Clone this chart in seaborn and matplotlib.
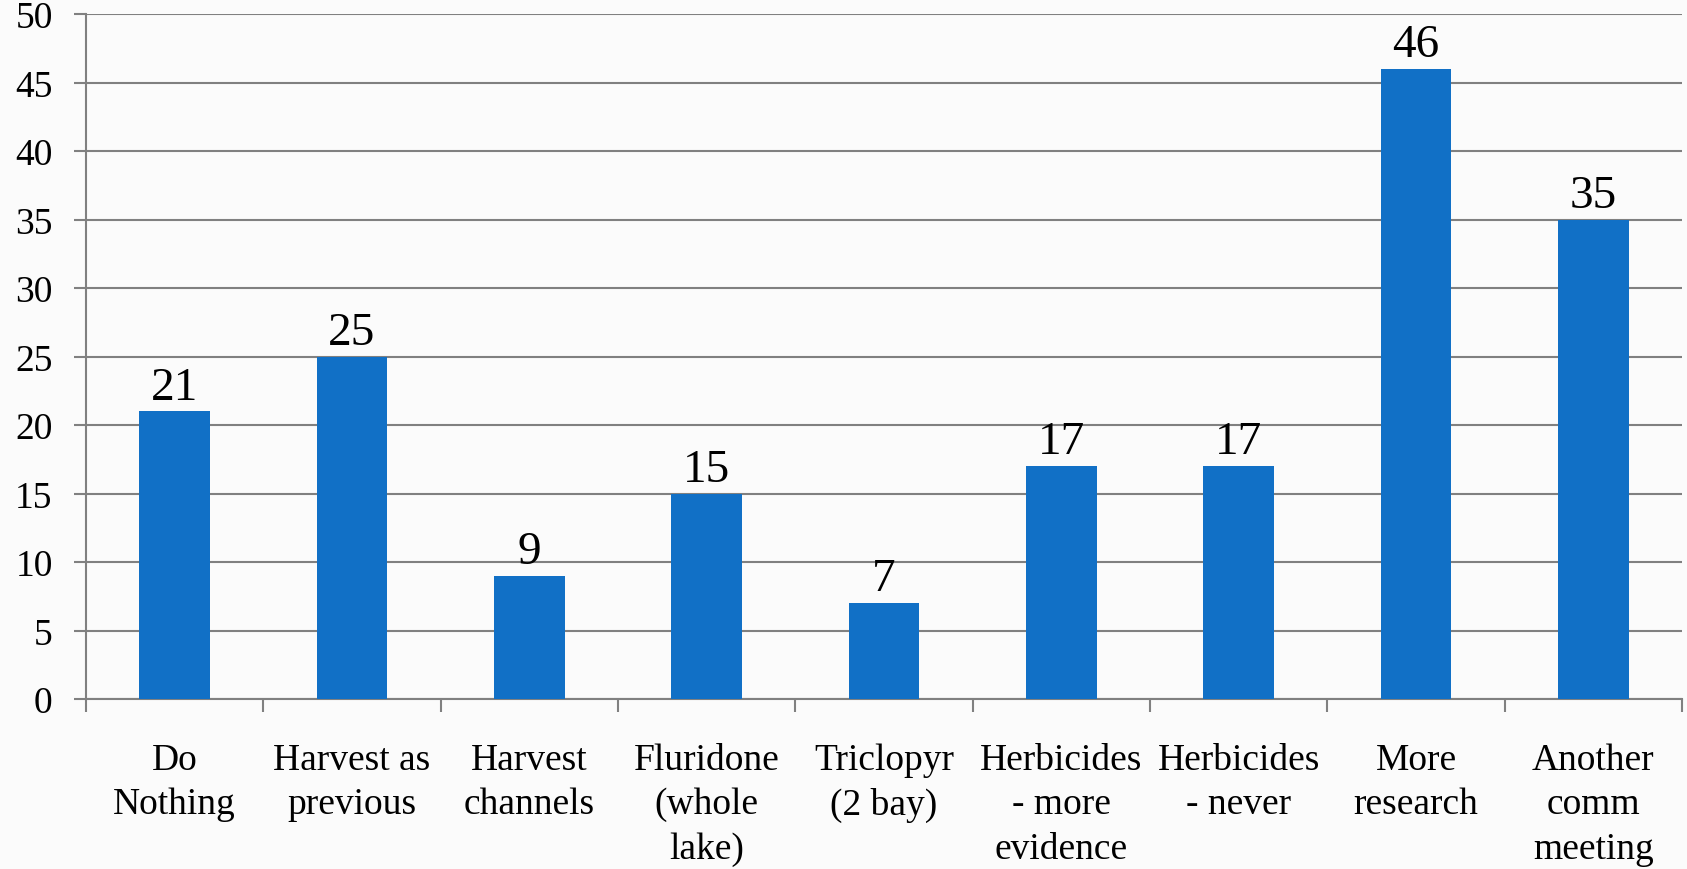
import numpy as np
import pandas as pd
import matplotlib
matplotlib.use('Agg')
import matplotlib.pyplot as plt
import seaborn as sns

# risposte del sondaggio
categories = ['Do\nNothing', 'Harvest as\nprevious', 'Harvest\nchannels',
              'Fluridone\n(whole\nlake)', 'Triclopyr\n(2 bay)',
              'Herbicides\n- more\nevidence', 'Herbicides\n- never',
              'More\nresearch', 'Another\ncomm\nmeeting']
votes = [21, 25, 9, 15, 7, 17, 17, 46, 35]
y_ticks = [0, 5, 10, 15, 20, 25, 30, 35, 40, 45, 50]

df = pd.DataFrame({'Option': categories, 'Votes': votes})

sns.set_style('white')
plt.rcParams['font.family'] = ['Liberation Serif', 'DejaVu Serif']
plt.rcParams['text.color'] = 'black'
plt.rcParams['xtick.labelcolor'] = 'black'
plt.rcParams['ytick.labelcolor'] = 'black'

fig = plt.figure(figsize=(16.87, 8.7), dpi=100, facecolor='#fbfbfb')
ax = fig.add_axes([86/1687, 1 - 700/870, (1682 - 86)/1687, (700 - 15)/870])
ax.set_facecolor('#fbfbfb')

sns.barplot(data=df, x='Option', y='Votes', color='#1170C6', width=0.4,
            saturation=1, linewidth=0, ax=ax, zorder=3)
ax.bar_label(ax.containers[0], fontsize=34, padding=2, color='black')

ax.set_ylim(0, 50)
ax.set_xlim(-0.5, len(categories) - 0.5)
ax.set_yticks(y_ticks)
ax.yaxis.grid(True, color='#808080', linewidth=1.5, zorder=0)
ax.set_axisbelow(True)
ax.set_xlabel('')
ax.set_ylabel('')

# tacche tra le categorie
ax.set_xticks(np.arange(len(categories) + 1) - 0.5, minor=True)
ax.tick_params(axis='x', which='minor', length=9, width=1.5, color='#808080', bottom=True)
ax.tick_params(axis='x', which='major', length=0, pad=31, labelsize=27)
ax.tick_params(axis='y', length=9, width=1.5, color='#808080', pad=15, labelsize=27, left=True)
for lbl in ax.get_xticklabels():
    lbl.set_linespacing(1.38)

for s in ['top', 'right']:
    ax.spines[s].set_visible(False)
for s in ['left', 'bottom']:
    ax.spines[s].set_color('#808080')
    ax.spines[s].set_linewidth(1.5)

fig.savefig('out.png', dpi=100, facecolor=fig.get_facecolor())
